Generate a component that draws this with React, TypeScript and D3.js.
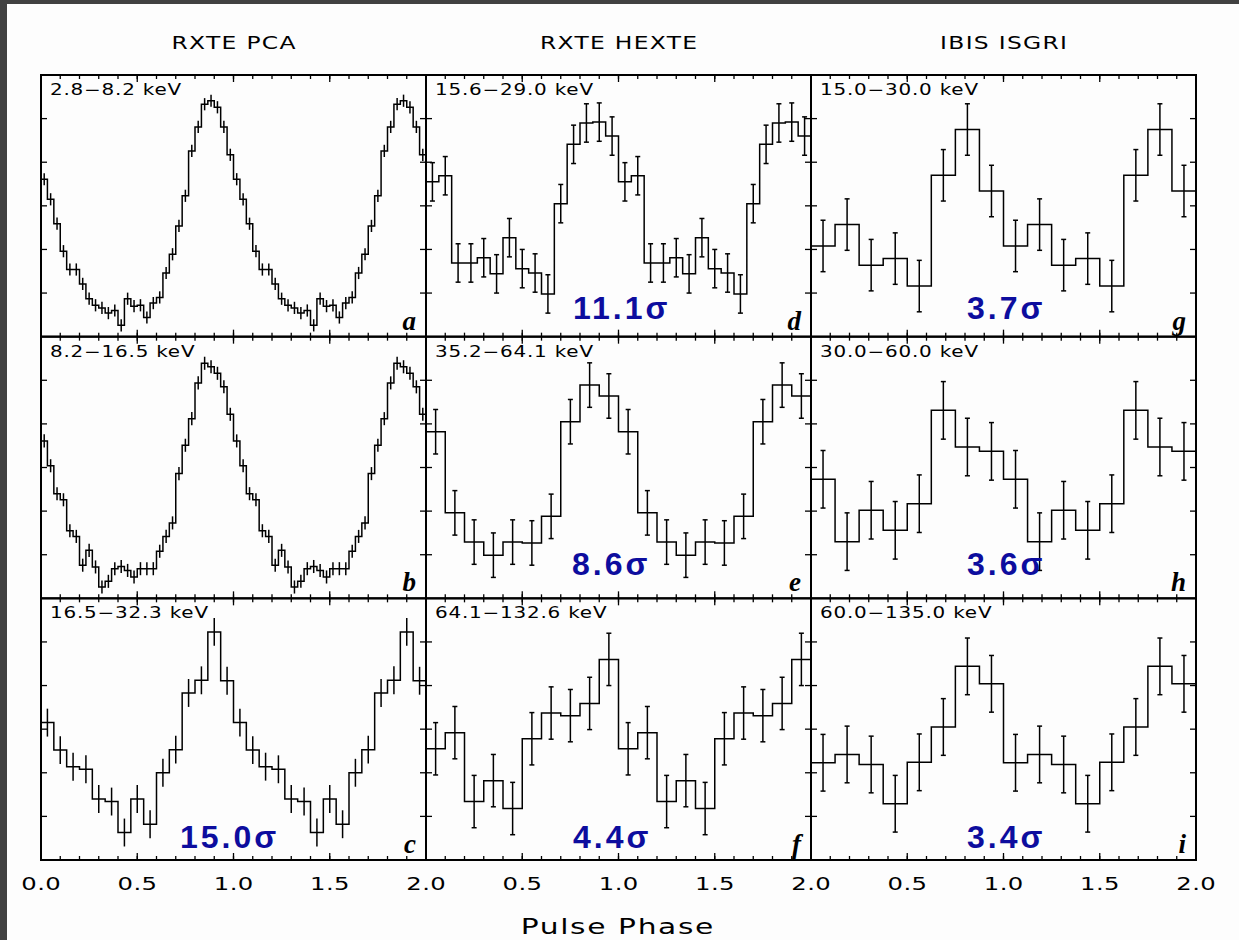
import React from "react";
import * as d3 from "d3";

const W = 1239;
const H = 940;

const columnTitles = ["RXTE PCA", "RXTE HEXTE", "IBIS ISGRI"];
const phaseTickValues = [0, 0.5, 1, 1.5, 2];
const phaseTickLabels = ["0.0", "0.5", "1.0", "1.5", "2.0"];
const xAxisTitle = "Pulse Phase";

const panelLetters = ["a", "b", "c", "d", "e", "f", "g", "h", "i"];
const energyBands = [
  "2.8−8.2 keV",
  "8.2−16.5 keV",
  "16.5−32.3 keV",
  "15.6−29.0 keV",
  "35.2−64.1 keV",
  "64.1−132.6 keV",
  "15.0−30.0 keV",
  "30.0−60.0 keV",
  "60.0−135.0 keV",
];
const significances = ["", "", "15.0σ", "11.1σ", "8.6σ", "4.4σ", "3.7σ", "3.6σ", "3.4σ"];

// one pulse cycle per panel (plotted twice), in axis units (0..6)
const profileA = [3.61, 3.15, 2.59, 1.96, 1.54, 1.54, 1.21, 0.87, 0.72, 0.66, 0.54, 0.6, 0.26, 0.87, 0.7, 0.72, 0.44, 0.77, 0.9, 1.46, 1.89, 2.54, 3.23, 4.26, 4.81, 5.33, 5.41, 5.26, 4.81, 4.17];
const profileB = [3.61, 3.04, 2.4, 2.26, 1.55, 1.42, 0.76, 1.1, 0.72, 0.26, 0.39, 0.68, 0.73, 0.64, 0.49, 0.68, 0.68, 0.68, 1.08, 1.42, 1.73, 2.86, 3.51, 4.12, 4.94, 5.39, 5.31, 5.16, 4.85, 4.22];
const profileC = [3.15, 2.52, 2.14, 2.08, 1.4, 1.34, 0.63, 1.4, 0.82, 2.0, 2.53, 3.83, 4.12, 5.23, 4.11];
const profileD = [3.55, 3.69, 1.69, 1.69, 1.81, 1.44, 2.27, 1.56, 1.46, 0.98, 3.05, 4.41, 4.9, 4.92, 4.6];
const profileE = [3.82, 1.96, 1.29, 0.99, 1.29, 1.27, 1.88, 4.05, 4.89, 4.64];
const profileF = [2.55, 2.92, 1.34, 1.82, 1.18, 2.78, 3.37, 3.31, 3.59, 4.6];
const profileG = [2.08, 2.57, 1.64, 1.79, 1.16, 3.7, 4.75, 3.34];
const profileH = [2.73, 1.3, 2.02, 1.56, 2.17, 4.31, 3.47, 3.37];
const profileI = [2.23, 2.42, 2.19, 1.29, 2.24, 3.05, 4.44, 4.04];
const profiles = [profileA, profileB, profileC, profileD, profileE, profileF, profileG, profileH, profileI];
const errors = [0.14, 0.15, 0.32, 0.44, 0.51, 0.6, 0.59, 0.66, 0.65];

// layout
const colLeft = [41, 426, 811];
const panelW = 385;
const rowTop = [75, 336.67, 598.33];
const panelH = 261.67;
const sigmaDX = [0, 0, 139, 147, 146, 147, 156, 156, 156];
const sigmaDY = [0, 0, 12, 18, 23, 12, 18, 23, 12];
const capHalf = [0, 0, 0, 2.5, 2.5, 2.5, 2.5, 2.5, 2.5];

const FONT = "'DejaVu Sans', sans-serif";

function WideText({
  x,
  y,
  size,
  sx,
  ls,
  anchor,
  children,
}: {
  x: number;
  y: number;
  size: number;
  sx: number;
  ls: number;
  anchor: "start" | "middle";
  children: React.ReactNode;
}) {
  const shift = anchor === "middle" ? ls / 2 : 0;
  return (
    <text
      transform={`translate(${x},${y}) scale(${sx},1)`}
      x={shift}
      y={0}
      textAnchor={anchor}
      fontFamily={FONT}
      fontSize={size}
      letterSpacing={ls}
      fill="#000"
    >
      {children}
    </text>
  );
}

function Panel({ i }: { i: number }) {
  const col = Math.floor(i / 3);
  const row = i % 3;
  const x0 = colLeft[col];
  const y0 = rowTop[row];
  const x = d3.scaleLinear().domain([0, 2]).range([x0, x0 + panelW]);
  const y = d3.scaleLinear().domain([0, 6]).range([y0 + panelH, y0]);
  const cycle = profiles[i];
  const n = cycle.length;
  const vals = cycle.concat(cycle);
  const w = 1 / n;
  const pts: [number, number][] = vals.map((v, k) => [k * w, v]);
  pts.push([2, vals[vals.length - 1]]);
  const line = d3
    .line<[number, number]>()
    .x((d) => x(d[0]))
    .y((d) => y(d[1]))
    .curve(d3.curveStepAfter);
  const err = errors[i];
  const minor = x.ticks(20).filter((t) => t > 0 && t < 2);
  const major = x.ticks(4).filter((t) => t > 0 && t < 2);
  const yt = y.ticks(6).filter((t) => t > 0 && t < 6);
  const bottom = y0 + panelH;
  const right = x0 + panelW;
  return (
    <g>
      <path d={line(pts) || ""} fill="none" stroke="#000" strokeWidth={1.5} />
      {vals.map((v, k) => {
        const cx = x((k + 0.5) * w);
        const c = capHalf[i];
        return (
          <g key={k} stroke="#000" strokeWidth={1.5}>
            <line x1={cx} x2={cx} y1={y(v - err)} y2={y(v + err)} />
            {c > 0 && <line x1={cx - c} x2={cx + c} y1={y(v - err)} y2={y(v - err)} />}
            {c > 0 && <line x1={cx - c} x2={cx + c} y1={y(v + err)} y2={y(v + err)} />}
          </g>
        );
      })}
      <g stroke="#000" strokeWidth={1.3}>
        {minor.map((t) => (
          <g key={"m" + t}>
            <line x1={x(t)} x2={x(t)} y1={bottom} y2={bottom - 4} />
            <line x1={x(t)} x2={x(t)} y1={y0} y2={y0 + 4} />
          </g>
        ))}
        {major.map((t) => (
          <g key={"M" + t}>
            <line x1={x(t)} x2={x(t)} y1={bottom} y2={bottom - 7} />
            <line x1={x(t)} x2={x(t)} y1={y0} y2={y0 + 7} />
          </g>
        ))}
        {yt.map((t) => (
          <g key={"y" + t}>
            <line x1={x0} x2={x0 + 6} y1={y(t)} y2={y(t)} />
            <line x1={right} x2={right - 6} y1={y(t)} y2={y(t)} />
          </g>
        ))}
      </g>
      <rect x={x0} y={y0} width={panelW} height={panelH} fill="none" stroke="#000" strokeWidth={2} />
      <WideText x={x0 + 9} y={y0 + 20} size={15} sx={1.33} ls={0.6} anchor="start">
        {energyBands[i]}
      </WideText>
      {significances[i] && (
        <text
          x={x0 + sigmaDX[i]}
          y={bottom - sigmaDY[i]}
          fontFamily="'Liberation Sans', Arial, sans-serif"
          fontWeight="bold"
          fontSize={32}
          letterSpacing={3}
          fill="#0d0d9e"
        >
          {significances[i]}
        </text>
      )}
      <text
        x={right - 10}
        y={bottom - 7}
        textAnchor="end"
        fontFamily="'Liberation Serif', serif"
        fontStyle="italic"
        fontWeight="bold"
        fontSize={27}
        fill="#000"
      >
        {panelLetters[i]}
      </text>
    </g>
  );
}

export default function App() {
  const bottomY = rowTop[2] + panelH;
  return (
    <svg width={W} height={H} style={{ position: "absolute", left: 0, top: 0 }}>
      <rect x={0} y={0} width={W} height={H} fill="#fdfdfd" />
      <rect x={0} y={0} width={W} height={4} fill="#414141" />
      <rect x={0} y={0} width={7} height={H} fill="#414141" />
      {columnTitles.map((t, c) => (
        <WideText key={t} x={colLeft[c] + panelW / 2} y={49} size={18} sx={1.3} ls={1} anchor="middle">
          {t}
        </WideText>
      ))}
      {d3.range(9).map((i) => (
        <Panel key={i} i={i} />
      ))}
      {colLeft.map((cl, c) => {
        const x = d3.scaleLinear().domain([0, 2]).range([cl, cl + panelW]);
        return phaseTickValues.map((t, k) =>
          c > 0 && k === 0 ? null : (
            <WideText key={c + "-" + k} x={x(t)} y={bottomY + 30} size={18} sx={1.35} ls={0.3} anchor="middle">
              {phaseTickLabels[k]}
            </WideText>
          )
        );
      })}
      <WideText x={617} y={934} size={22} sx={1.35} ls={1.2} anchor="middle">
        {xAxisTitle}
      </WideText>
    </svg>
  );
}
